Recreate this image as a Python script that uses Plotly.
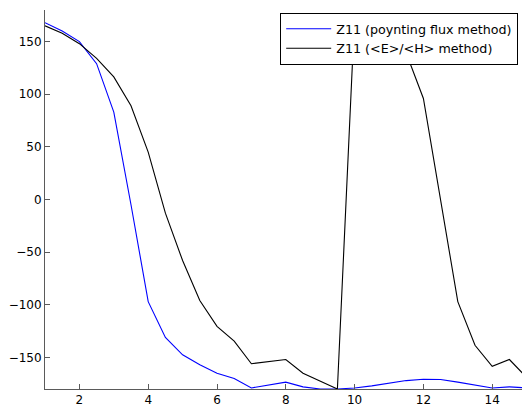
import plotly.graph_objects as go

x = [1, 1.5, 2, 2.5, 3, 3.5, 4, 4.5, 5, 5.5, 6, 6.5, 7, 7.5, 8, 8.5, 9, 9.5,
     10, 10.5, 11, 11.5, 12, 12.5, 13, 13.5, 14, 14.5, 15]

z11_poynting = [168, 160, 150, 129, 83, -5, -97, -131, -147.5, -157, -165, -170, -179,
                -176, -173.5, -178, -180, -180, -179, -177, -174.5, -172, -170.7, -171,
                -173.5, -176, -179, -178, -179]

z11_eh = [165, 158, 148, 134, 116.5, 89, 45, -13, -58, -96, -120.5, -134.5, -156,
          -154, -152, -165, -172.5, -180, 174, 168, 158, 139, 96, 0,
          -97, -138.5, -158.5, -152, -169]

x_ticks = [2, 4, 6, 8, 10, 12, 14]
y_ticks = [-150, -100, -50, 0, 50, 100, 150]

FONT = "DejaVu Sans"

fig = go.Figure()
fig.add_trace(go.Scatter(x=x, y=z11_poynting, mode="lines",
                         name="Z11 (poynting flux method)",
                         line=dict(color="#0000ff", width=1.1)))
fig.add_trace(go.Scatter(x=x, y=z11_eh, mode="lines",
                         name="Z11 (&lt;E&gt;/&lt;H&gt; method)",
                         line=dict(color="#000000", width=1.1)))

fig.update_layout(
    width=522, height=410,
    margin=dict(l=45, r=0, t=10, b=21),
    paper_bgcolor="white", plot_bgcolor="white",
    font=dict(family=FONT, size=12, color="#000000"),
    showlegend=True,
    legend=dict(x=0.992, y=0.992, xanchor="right", yanchor="top",
                bgcolor="white", bordercolor="#000000", borderwidth=1,
                font=dict(family=FONT, size=12.7, color="#000000"),
                tracegroupgap=0, itemwidth=45),
)
fig.update_xaxes(range=[1, 1 + 477 / 34.4], tickvals=x_ticks,
                 showgrid=False, zeroline=False,
                 showline=True, linecolor="#5a5a5a", linewidth=1,
                 ticks="inside", ticklen=5, tickcolor="#5a5a5a")
fig.update_yaxes(range=[-180, 180], tickvals=y_ticks,
                 showgrid=False, zeroline=False,
                 showline=True, linecolor="#5a5a5a", linewidth=1,
                 ticks="inside", ticklen=5, tickcolor="#5a5a5a")

fig.write_html("out.html", config={"displayModeBar": False})

# remove the default page margin so the figure sits at the window's top-left
with open("out.html", "r", encoding="utf-8") as f:
    html = f.read()
html = html.replace("<head>", "<head><style>html,body{margin:0;padding:0;overflow:hidden;}</style>", 1)
with open("out.html", "w", encoding="utf-8") as f:
    f.write(html)
